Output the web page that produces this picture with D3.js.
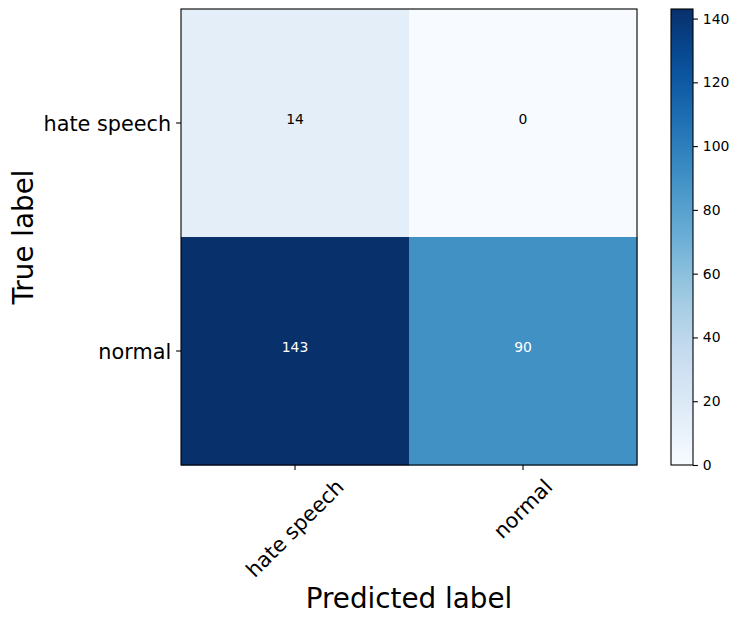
<!DOCTYPE html>
<html><head><meta charset="utf-8">
<script src="https://cdn.jsdelivr.net/npm/d3@7"></script>
<style>body{margin:0;background:#fff}svg{display:block;font-family:"DejaVu Sans",sans-serif}</style>
</head><body>
<svg id="c" width="739" height="623"></svg>
<script>
const trueLabels = ["hate speech", "normal"];
const predLabels = ["hate speech", "normal"];
const matrix = [[14, 0], [143, 90]];
const colorbarTicks = [0, 20, 40, 60, 80, 100, 120, 140];
const bluesStops = ["#f7fbff","#deebf7","#c6dbef","#9ecae1","#6baed6","#4292c6","#2171b5","#08519c","#08306b"];

const svg = d3.select("#c");
const L = 181, T = 9, W = 456, H = 456;
const vmax = d3.max(matrix.flat());
const vmin = d3.min(matrix.flat());
const color = d3.scaleLinear()
  .domain(bluesStops.map((_, i) => vmin + (vmax - vmin) * i / (bluesStops.length - 1)))
  .range(bluesStops).interpolate(d3.interpolateRgb).clamp(true);

const x = d3.scaleBand().domain(predLabels).range([L, L + W]);
const y = d3.scaleBand().domain(trueLabels).range([T, T + H]);

const cells = [];
matrix.forEach((row, i) => row.forEach((v, j) => cells.push({t: trueLabels[i], p: predLabels[j], v})));

svg.append("g").selectAll("rect").data(cells).join("rect")
  .attr("x", d => x(d.p)).attr("y", d => y(d.t))
  .attr("width", x.bandwidth() + 0.5).attr("height", y.bandwidth() + 0.5)
  .attr("fill", d => color(d.v));

const thresh = vmax / 2;
svg.append("g").selectAll("text").data(cells).join("text")
  .attr("x", d => x(d.p) + x.bandwidth() / 2)
  .attr("y", d => y(d.t) + y.bandwidth() / 2 + 1)
  .attr("text-anchor", "middle")
  .attr("font-size", "13.9px")
  .attr("fill", d => d.v > thresh ? "#fff" : "#000")
  .text(d => d.v);

svg.append("rect").attr("x", L).attr("y", T).attr("width", W).attr("height", H)
  .attr("fill", "none").attr("stroke", "#000").attr("stroke-width", 1.1);

// x axis
const xa = svg.append("g").attr("transform", `translate(0,${T + H})`);
predLabels.forEach(lab => {
  const cx = x(lab) + x.bandwidth() / 2;
  xa.append("line").attr("x1", cx).attr("x2", cx).attr("y1", 0).attr("y2", 4.9).attr("stroke", "#000").attr("stroke-width", 1.1);
  const t = xa.append("text").attr("font-size", "20.8px").attr("text-anchor", "middle")
    .attr("dominant-baseline", "central").text(lab);
  const w = t.node().getComputedTextLength();
  const h = 24;
  const half = (w + h) / 2 * Math.SQRT1_2;
  t.attr("transform", `translate(${cx},${9.8 + half}) rotate(-45)`);
});

// y axis
const ya = svg.append("g").attr("transform", `translate(${L},0)`);
trueLabels.forEach(lab => {
  const cy = y(lab) + y.bandwidth() / 2;
  ya.append("line").attr("x1", 0).attr("x2", -4.9).attr("y1", cy).attr("y2", cy).attr("stroke", "#000").attr("stroke-width", 1.1);
  ya.append("text").attr("x", -9.8).attr("y", cy + 7.5).attr("font-size", "20.8px")
    .attr("text-anchor", "end").text(lab);
});

svg.append("text").attr("x", L + W / 2).attr("y", 608).attr("text-anchor", "middle")
  .attr("font-size", "27.8px").text("Predicted label");
svg.append("text").attr("transform", `translate(33,${T + H / 2}) rotate(-90)`)
  .attr("text-anchor", "middle").attr("font-size", "27.8px").text("True label");

// colorbar
const CL = 671, CW = 22;
const cs = d3.scaleLinear().domain([vmin, vmax]).range([T + H, T]);
const defs = svg.append("defs");
const grad = defs.append("linearGradient").attr("id", "cb").attr("x1", 0).attr("x2", 0).attr("y1", 1).attr("y2", 0);
d3.range(0, 1.0001, 0.05).forEach(f => grad.append("stop").attr("offset", f).attr("stop-color", color(vmin + f * (vmax - vmin))));
svg.append("rect").attr("x", CL).attr("y", T).attr("width", CW).attr("height", H).attr("fill", "url(#cb)");
svg.append("rect").attr("x", CL).attr("y", T).attr("width", CW).attr("height", H)
  .attr("fill", "none").attr("stroke", "#000").attr("stroke-width", 1.1);
const ca = svg.append("g").attr("transform", `translate(${CL + CW},0)`)
  .call(d3.axisRight(cs).tickValues(colorbarTicks).tickSize(4.9).tickPadding(4.9));
ca.select(".domain").remove();
ca.selectAll("line").attr("stroke-width", 1.1);
ca.selectAll("text").attr("font-size", "13.9px").attr("font-family", "DejaVu Sans").attr("fill", "#000");
</script>
</body></html>
